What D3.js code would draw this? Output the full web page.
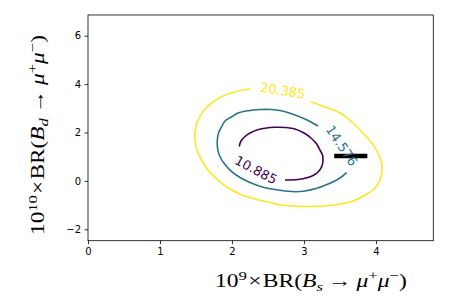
<!DOCTYPE html>
<html><head><meta charset="utf-8">
<script src="https://cdn.jsdelivr.net/npm/d3@7"></script>
<style>body{margin:0;background:#fff}</style>
</head><body>
<svg id="c" width="461" height="301"></svg>
<script>
// ---- data ----
const xTicks = [0, 1, 2, 3, 4];
const yTicks = [-2, 0, 2, 4, 6];
const levels = [10.885, 14.576, 20.385];
const levelColors = ["#440154", "#2c718e", "#fde725"];

// contour 10.885 (open where the label sits)
const contour1 = [[2.101,1.421],[2.125,1.649],[2.181,1.835],[2.250,1.979],[2.347,2.103],[2.458,2.174],[2.597,2.215],[2.736,2.207],[2.875,2.145],[3.000,1.979],[3.097,1.773],[3.176,1.525],[3.222,1.277],[3.257,1.070],[3.264,0.864],[3.250,0.616],[3.208,0.409],[3.139,0.244],[3.042,0.128],[2.917,0.058],[2.736,0.037]];
// contour 14.576
const contour2 = [[3.194,2.269],[3.014,2.558],[2.806,2.793],[2.667,2.909],[2.551,2.950],[2.389,2.950],[2.222,2.901],[2.083,2.806],[1.996,2.653],[1.903,2.475],[1.857,2.240],[1.813,1.979],[1.796,1.690],[1.799,1.360],[1.833,1.000],[1.903,0.678],[1.996,0.380],[2.111,0.140],[2.274,-0.099],[2.444,-0.273],[2.639,-0.376],[2.875,-0.446],[3.014,-0.417],[3.176,-0.306],[3.319,-0.149],[3.454,0.037],[3.528,0.182],[3.593,0.339]];
// contour 20.385
const contour3 = [[3.093,3.273],[3.292,3.054],[3.500,2.806],[3.667,2.434],[3.819,1.979],[3.931,1.607],[4.014,1.236],[4.076,0.781],[4.083,0.450],[4.056,0.037],[3.986,-0.293],[3.875,-0.541],[3.681,-0.831],[3.472,-0.975],[3.264,-1.037],[3.014,-1.058],[2.875,-1.037],[2.681,-0.996],[2.500,-0.872],[2.319,-0.748],[2.139,-0.583],[1.972,-0.335],[1.806,0.037],[1.667,0.450],[1.579,0.864],[1.514,1.277],[1.486,1.690],[1.493,2.186],[1.542,2.599],[1.625,2.971],[1.736,3.260],[1.861,3.488],[2.014,3.653],[2.153,3.756],[2.250,3.798]];
const contours = [contour1, contour2, contour3];
// label anchor points (data) and angles
const labelPos = [[2.333,0.45],[3.523,1.455],[2.704,3.727]];
const labelAngle = [28, 56, 9];
// black bar (measurement)
const barX = [3.42, 3.88];
const barY = 1.03;

// ---- layout ----
const L = 88, R = 433.3, T = 15, B = 240.7;
const x = d3.scaleLinear().domain([0, 4.796]).range([L, R]);
const y = d3.scaleLinear().domain([-2.47, 6.855]).range([B, T]);
const svg = d3.select("#c");

const line = d3.line().x(d => x(d[0])).y(d => y(d[1])).curve(d3.curveCatmullRom.alpha(0.5));

svg.append("g").selectAll("path").data(contours).join("path")
  .attr("d", line).attr("fill", "none")
  .attr("stroke", (d, i) => levelColors[i]).attr("stroke-width", 1.6);

svg.append("line")
  .attr("x1", x(barX[0])).attr("x2", x(barX[1]))
  .attr("y1", y(barY)).attr("y2", y(barY))
  .attr("stroke", "#000").attr("stroke-width", 4.5);

svg.append("g").selectAll("text").data(levels).join("text")
  .attr("transform", (d, i) => `translate(${x(labelPos[i][0])},${y(labelPos[i][1])}) rotate(${labelAngle[i]})`)
  .attr("text-anchor", "middle").attr("dominant-baseline", "central")
  .attr("font-family", "DejaVu Sans").attr("font-size", 13)
  .attr("fill", (d, i) => levelColors[i])
  .text(d => d3.format(".3f")(d));

// axes
const fmt = d => (d < 0 ? "\u2212" + Math.abs(d) : String(d));
const gx = svg.append("g").attr("transform", `translate(0,${B})`)
  .call(d3.axisBottom(x).tickValues(xTicks).tickFormat(fmt).tickSize(3.5).tickPadding(3.5));
const gy = svg.append("g").attr("transform", `translate(${L},0)`)
  .call(d3.axisLeft(y).tickValues(yTicks).tickFormat(fmt).tickSize(3.5).tickPadding(3.5));
[gx, gy].forEach(g => {
  g.select(".domain").remove();
  g.selectAll("text").attr("font-family", "DejaVu Sans").attr("font-size", 10).attr("fill", "#000");
  g.selectAll("line").attr("stroke", "#000").attr("stroke-width", 0.8);
});
svg.append("rect").attr("x", L).attr("y", T).attr("width", R - L).attr("height", B - T)
  .attr("fill", "none").attr("stroke", "#000").attr("stroke-width", 0.8);

// axis labels (math-like text)
function mathLabel(g, parts, targetWidth) {
  const inner = g.append("g");
  const t = inner.append("text").attr("font-family", "Liberation Serif, DejaVu Serif, serif").attr("font-size", 19).attr("fill", "#000");
  let shift = 0;
  parts.forEach(p => {
    const target = p.sup ? -7.5 : p.sub ? 4 : 0;
    t.append("tspan").attr("dy", target - shift).attr("dx", p.dx || 0)
      .attr("font-size", (p.sup || p.sub) ? 13.5 : 19)
      .attr("font-style", p.it ? "italic" : "normal")
      .text(p.s);
    shift = target;
  });
  const bb = t.node().getBBox();
  const s = targetWidth / bb.width;
  inner.attr("transform", `scale(${s},1) translate(${-bb.x},0)`);
  return t;
}
mathLabel(svg.append("g").attr("transform", "translate(215,287)"), [
  {s:"10"},{s:"9",sup:1},{s:"\u00d7",dx:1},{s:"BR(",dx:1},{s:"B",it:1},{s:"s",it:1,sub:1},{s:"\u2192",dx:4},{s:"\u03bc",it:1,dx:4},{s:"+",sup:1},{s:"\u03bc",it:1},{s:"\u2212",sup:1},{s:")"}
], 192);
mathLabel(svg.append("g").attr("transform", "translate(44,235) rotate(-90)"), [
  {s:"10"},{s:"10",sup:1},{s:"\u00d7",dx:1},{s:"BR(",dx:1},{s:"B",it:1},{s:"d",it:1,sub:1},{s:"\u2192",dx:4},{s:"\u03bc",it:1,dx:4},{s:"+",sup:1},{s:"\u03bc",it:1},{s:"\u2212",sup:1},{s:")"}
], 200);
</script>
</body></html>
